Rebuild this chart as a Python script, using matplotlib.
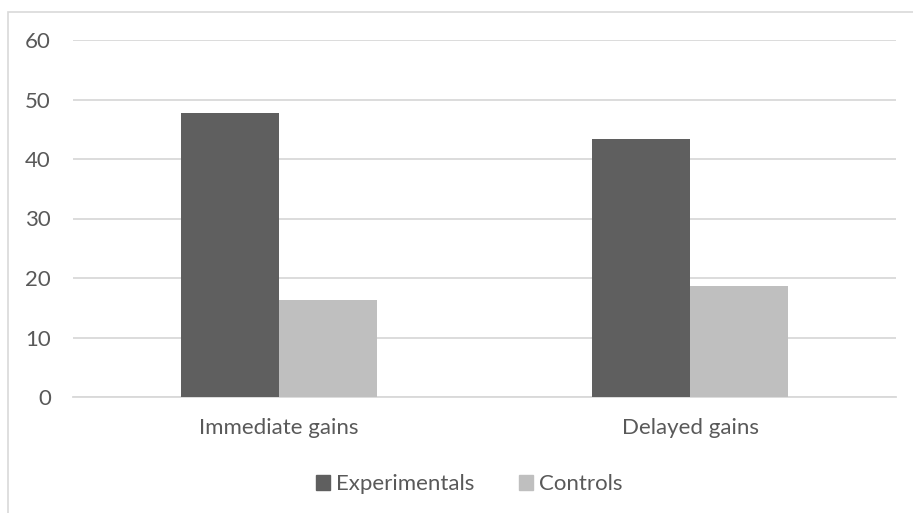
import matplotlib.pyplot as plt
import numpy as np
from matplotlib.patches import Patch, Rectangle

# Data
categories = ['Immediate gains', 'Delayed gains']
experimentals = [47.7, 43.3]
controls = [16.3, 18.6]
series_names = ['Experimentals', 'Controls']

dark = '#5f5f5f'
light = '#bfbfbf'
text_col = '#595959'
grid_col = '#d9d9d9'

plt.rcParams['font.family'] = ['Lato', 'DejaVu Sans']

fig = plt.figure(figsize=(9.13, 5.13), dpi=100)
ax = fig.add_axes([73 / 913, 1 - 397 / 513, (896 - 73) / 913, (397 - 40) / 513])

# outer chart border (cropped on right/bottom)
fig.patches.append(Rectangle((8 / 913, -0.1), 1.2, 1 - 12 / 513 + 0.1,
                             transform=fig.transFigure, fill=False,
                             edgecolor=grid_col, linewidth=1.2))

x = np.arange(len(categories))
w = 0.238
ax.bar(x - w / 2, experimentals, w, color=dark, zorder=3)
ax.bar(x + w / 2, controls, w, color=light, zorder=3)

ax.set_xlim(-0.5, 1.5)
ax.set_ylim(0, 60)
ax.set_yticks(range(0, 61, 10))
ax.yaxis.grid(True, color=grid_col, linewidth=1.3, zorder=0)
ax.set_xticks(x)
ax.set_xticklabels(categories)
ax.tick_params(axis='both', length=0, labelsize=16, labelcolor=text_col)
ax.tick_params(axis='y', pad=16)
ax.tick_params(axis='x', pad=15)
for s in ['top', 'right', 'left']:
    ax.spines[s].set_visible(False)
ax.spines['bottom'].set_color(grid_col)
ax.spines['bottom'].set_linewidth(1.3)

handles = [Patch(color=dark), Patch(color=light)]
fig.legend(handles, series_names, loc='center', bbox_to_anchor=(469 / 913, 1 - 484 / 513),
           ncol=2, frameon=False, fontsize=16, labelcolor=text_col,
           handlelength=0.64, handleheight=0.64, handletextpad=0.27, columnspacing=2.0)

fig.savefig('out.png', dpi=100)
